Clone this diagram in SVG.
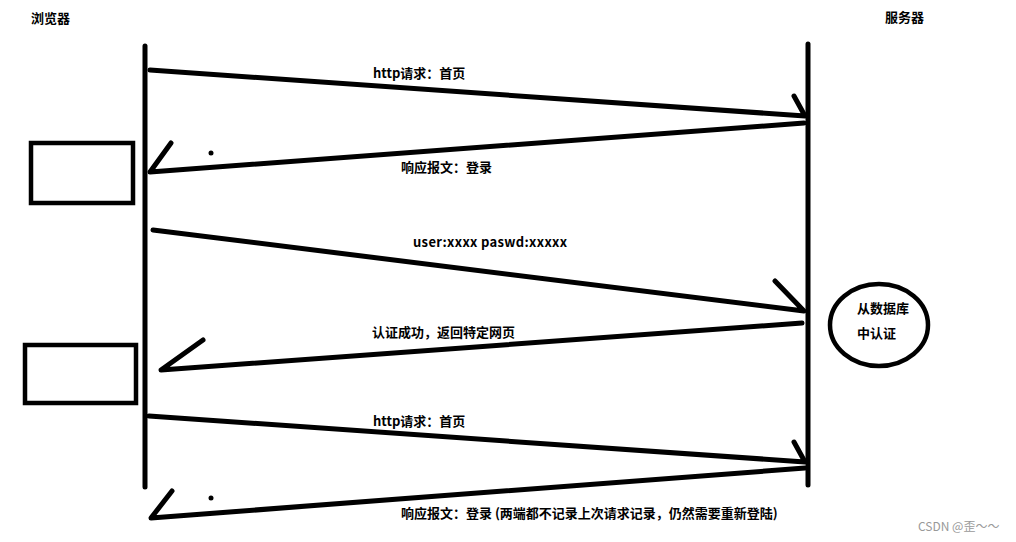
<svg xmlns="http://www.w3.org/2000/svg" width="1016" height="542" viewBox="0 0 1016 542">
<style>
.ln{stroke:#000;stroke-width:5;stroke-linecap:round;stroke-linejoin:round;fill:none}
.bx{stroke:#000;stroke-width:4.5;fill:#fff}
.t{font-family:"Noto Sans CJK SC","Noto Sans",sans-serif;font-size:13px;font-weight:bold;fill:#000}
.wm{font-family:"Noto Sans CJK SC","Noto Sans",sans-serif;font-size:12px;fill:#999}
</style>
<rect width="1016" height="542" fill="#fff"/>
<g id="browser">
<text class="t" x="31" y="23">浏览器</text>
<line class="ln" x1="145" y1="46" x2="145" y2="487"/>
</g>
<g id="server">
<text class="t" x="885" y="22">服务器</text>
<line class="ln" x1="808" y1="44" x2="808" y2="485"/>
</g>
<g id="page1"><rect class="bx" x="31" y="143" width="102" height="60"/></g>
<g id="page2"><rect class="bx" x="25" y="345" width="111" height="58"/></g>
<g id="db">
<ellipse cx="879" cy="325" rx="49" ry="41" stroke="#000" stroke-width="4.5" fill="#fff"/>
<text class="t" x="857" y="313">从数据库</text>
<text class="t" x="857" y="338">中认证</text>
</g>
<g id="connectors">
<polyline class="ln" points="150,70 805,116 794,96"/>
<polyline class="ln" points="804,123 150,172 171,143"/>
<circle cx="211" cy="153" r="2.5" fill="#000"/>
<polyline class="ln" points="153,230 804,311 775,281"/>
<polyline class="ln" points="802,323 161,370 203,340"/>
<polyline class="ln" points="149,416 805,462 794,442"/>
<polyline class="ln" points="805,468 151,518 172,491"/>
<circle cx="211" cy="498" r="2.5" fill="#000"/>
</g>
<g id="labels">
<text class="t" x="373" y="78">http请求：首页</text>
<text class="t" x="401" y="172">响应报文：登录</text>
<text class="t" x="413" y="247" textLength="154" lengthAdjust="spacing">user:xxxx paswd:xxxxx</text>
<text class="t" x="372" y="337">认证成功，返回特定网页</text>
<text class="t" x="373" y="426">http请求：首页</text>
<text class="t" x="401" y="518">响应报文：登录 (两端都不记录上次请求记录，仍然需要重新登陆)</text>
</g>
<text class="wm" x="918" y="531">CSDN @歪～～</text>
</svg>
